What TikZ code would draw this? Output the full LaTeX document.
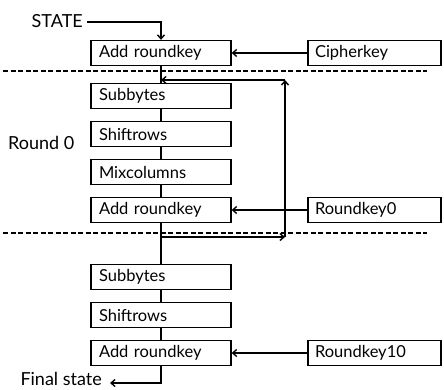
\documentclass[tikz,border=0pt]{standalone}
\usepackage{fontspec}
\setmainfont{Lato}
\usetikzlibrary{arrows.meta}
\begin{document}
\begin{tikzpicture}[x=1pt,y=-1pt,
  lbox/.style={draw,line width=1.3pt,minimum height=25pt,text width=124pt,inner xsep=8pt,align=left,font=\fontsize{16.5}{18}\selectfont},
  rbox/.style={draw,line width=1.3pt,minimum height=25pt,text width=119pt,inner xsep=7pt,align=left,font=\fontsize{16.5}{18}\selectfont},
  conn/.style={line width=1.4pt},
  arr/.style={line width=1.4pt,-{Straight Barb[length=4pt,width=7pt]}},
  sep/.style={line width=1.2pt,dash pattern=on 5pt off 2.5pt},
  lbl/.style={font=\fontsize{18}{20}\selectfont,inner sep=0pt}]
\useasboundingbox (0,0) rectangle (444,390);
% left column
\node[lbox] (ar1) at (161,53) {Add roundkey};
\node[lbox] (sb1) at (161,96) {Subbytes};
\node[lbox] (sr1) at (161,134) {Shiftrows};
\node[lbox] (mc)  at (161,172) {Mixcolumns};
\node[lbox] (ar2) at (161,210) {Add roundkey};
\node[lbox] (sb2) at (161,277) {Subbytes};
\node[lbox] (sr2) at (161,315) {Shiftrows};
\node[lbox] (ar3) at (161,353) {Add roundkey};
% right column
\node[rbox] (ck)   at (374.5,53) {Cipherkey};
\node[rbox] (rk0)  at (374.5,210) {Roundkey0};
\node[rbox] (rk10) at (374.5,353) {Roundkey10};
% labels
\node[lbl,anchor=east] (state) at (83,21) {STATE};
\node[lbl,anchor=west] (round) at (8,143) {Round 0};
\node[lbl,anchor=east] (final) at (102,379) {Final state};
% dashed separators
\coordinate (d1a) at (3,71); \coordinate (d1b) at (427,71);
\coordinate (d2a) at (3,233); \coordinate (d2b) at (427,233);
\draw[sep] (d1a) -- (d1b);
\draw[sep] (d2a) -- (d2b);
% main flow
\draw[arr] (state.east) ++(4,1) -| (ar1.north);
\draw[conn] (ar1) -- (sb1);
\draw[conn] (sb1) -- (sr1);
\draw[conn] (sr1) -- (mc);
\draw[conn] (mc) -- (ar2);
\draw[conn] (ar2) -- (sb2);
\draw[conn] (sb2) -- (sr2);
\draw[conn] (sr2) -- (ar3);
\coordinate (fe) at (110,383);
\draw[arr] (ar3.south) |- (fe);
% keys
\draw[arr] (ck) -- (ar1);
\draw[arr] (rk0) -- (ar2);
\draw[arr] (rk10) -- (ar3);
% loop
\coordinate (lb) at (161,237);
\coordinate (rb) at (285,237);
\coordinate (rt) at (285,80);
\coordinate (lt) at (161,80);
\draw[arr] (lb) -- (rb);
\draw[arr] (rb) -- (rt);
\draw[arr] (rt) -- (lt);
\end{tikzpicture}
\end{document}
